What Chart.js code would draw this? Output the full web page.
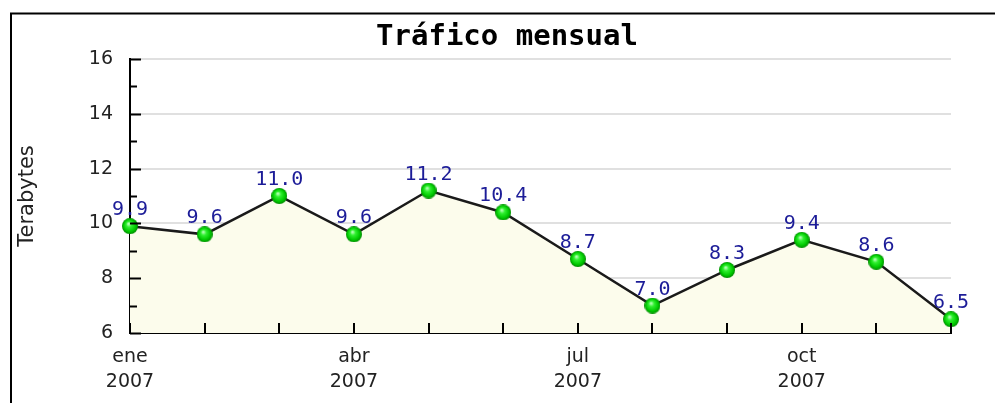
<!DOCTYPE html>
<html>
<head>
<meta charset="utf-8">
<title>Tráfico mensual</title>
<script src="https://cdn.jsdelivr.net/npm/chart.js@4.4.1/dist/chart.umd.min.js"></script>
<style>
  html, body { margin: 0; padding: 0; background: #fff; }
  #wrap { width: 995px; height: 403px; }
</style>
</head>
<body>
<div id="wrap"><canvas id="trafico" width="995" height="403"></canvas></div>
<script>
// datos del gráfico
const months = ['ene', 'feb', 'mar', 'abr', 'may', 'jun', 'jul', 'ago', 'sep', 'oct', 'nov', 'dic'];
const traffic = [9.9, 9.6, 11.0, 9.6, 11.2, 10.4, 8.7, 7.0, 8.3, 9.4, 8.6, 6.5];
const xTickLabels = [['ene', '2007'], '', '', ['abr', '2007'], '', '', ['jul', '2007'], '', '', ['oct', '2007'], '', ''];
const yTicks = [6, 8, 10, 12, 14, 16];
const chartTitle = 'Tráfico mensual';
const yTitle = 'Terabytes';

// green "ball" marker
function makeBall(r) {
  const c = document.createElement('canvas');
  c.width = c.height = r * 2;
  const g = c.getContext('2d');
  const grad = g.createRadialGradient(r - 1.5, r - 2.5, 0.5, r, r, r);
  grad.addColorStop(0, '#b8ffb8');
  grad.addColorStop(0.3, '#30f030');
  grad.addColorStop(0.75, '#00c800');
  grad.addColorStop(1, '#008a00');
  g.fillStyle = grad;
  g.beginPath();
  g.arc(r, r, r, 0, Math.PI * 2);
  g.fill();
  return c;
}
const ball = makeBall(8);

// frame + title
const framePlugin = {
  id: 'frame',
  beforeDraw(chart) {
    const ctx = chart.ctx;
    ctx.save();
    ctx.strokeStyle = '#000';
    ctx.lineWidth = 2;
    ctx.strokeRect(11, 13.5, 1200, 600);
    ctx.font = 'bold 29px "DejaVu Sans Mono"';
    ctx.fillStyle = '#000';
    ctx.textAlign = 'center';
    ctx.textBaseline = 'middle';
    ctx.fillText(chartTitle, 507, 37);
    ctx.restore();
  }
};

// tick marks drawn inside the plot, like the original
const innerTicks = {
  id: 'innerTicks',
  afterDraw(chart) {
    const ctx = chart.ctx;
    const xs = chart.scales.x, ys = chart.scales.y;
    const area = chart.chartArea;
    ctx.save();
    ctx.strokeStyle = '#000';
    ctx.lineWidth = 2;
    ctx.beginPath();
    ys.ticks.forEach((t, i) => {
      const y = Math.round(ys.getPixelForTick(i)) + 0.5;
      const len = yTicks.includes(t.value) ? 11 : 7;
      ctx.moveTo(area.left, y);
      ctx.lineTo(area.left + len, y);
    });
    xs.ticks.forEach((t, i) => {
      const x = Math.round(xs.getPixelForTick(i));
      ctx.moveTo(x, area.bottom);
      ctx.lineTo(x, area.bottom - 10);
    });
    ctx.stroke();
    ctx.restore();
  }
};

// value labels above the points
const valueLabels = {
  id: 'valueLabels',
  afterDatasetsDraw(chart) {
    const ctx = chart.ctx;
    const meta = chart.getDatasetMeta(0);
    ctx.save();
    ctx.font = '20px "DejaVu Sans Mono"';
    ctx.fillStyle = '#1c1c98';
    ctx.textAlign = 'center';
    ctx.textBaseline = 'alphabetic';
    meta.data.forEach((pt, i) => {
      ctx.fillText(traffic[i].toFixed(1), pt.x, pt.y - 11);
    });
    ctx.restore();
  }
};

new Chart(document.getElementById('trafico'), {
  type: 'line',
  data: {
    labels: months,
    datasets: [{
      data: traffic,
      borderColor: '#1a1a1a',
      borderWidth: 2.5,
      backgroundColor: '#fcfcec',
      fill: 'start',
      tension: 0,
      pointStyle: ball,
      clip: false
    }]
  },
  options: {
    responsive: false,
    animation: false,
    events: [],
    devicePixelRatio: 1,
    layout: { padding: { top: 59, right: 44, left: 0, bottom: 0 } },
    plugins: {
      legend: { display: false },
      title: { display: false },
      tooltip: { enabled: false }
    },
    scales: {
      x: {
        afterFit(scale) { scale.height = 70; },
        grid: { drawOnChartArea: false, drawTicks: false },
        border: { color: '#000', width: 2 },
        ticks: {
          autoSkip: false,
          maxRotation: 0,
          padding: 11,
          color: '#222',
          font: { family: 'DejaVu Sans', size: 19, lineHeight: 1.33 },
          callback: (v, i) => xTickLabels[i]
        }
      },
      y: {
        min: 6,
        max: 16,
        afterFit(scale) { scale.width = 130; },
        grid: {
          drawTicks: false,
          lineWidth: 2,
          color: ctx => yTicks.includes(ctx.tick.value) ? '#e0e0e0' : 'rgba(0,0,0,0)'
        },
        border: { color: '#000', width: 2 },
        ticks: {
          stepSize: 1,
          padding: 17,
          color: '#222',
          font: { family: 'DejaVu Sans', size: 19 },
          callback: v => yTicks.includes(v) ? v : ''
        },
        title: {
          display: true,
          text: yTitle,
          color: '#222',
          font: { family: 'DejaVu Sans', size: 21 },
          padding: { top: 15, bottom: 0 }
        }
      }
    }
  },
  plugins: [framePlugin, innerTicks, valueLabels]
});
</script>
</body>
</html>
